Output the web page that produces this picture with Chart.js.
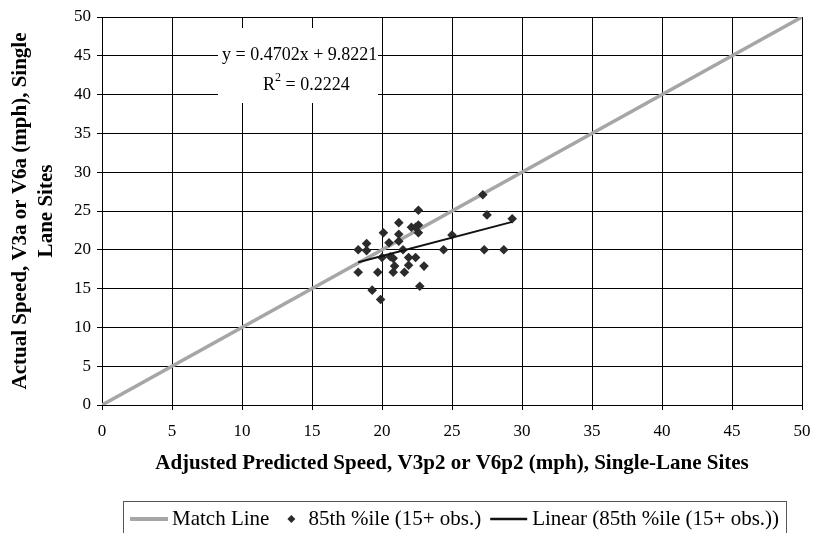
<!DOCTYPE html>
<html>
<head>
<meta charset="utf-8">
<script src="https://cdn.jsdelivr.net/npm/chart.js@4"></script>
<style>
  html, body { margin: 0; padding: 0; background: #fff; }
  #wrap { width: 814px; height: 533px; }
</style>
</head>
<body>
<div id="wrap"><canvas id="chart" width="814" height="533"></canvas></div>
<script>
// observed 85th percentile speeds (x = adjusted predicted, y = actual)
const predictedSpeed = [27.2, 22.6, 27.5, 29.3, 21.2, 22.1, 22.6, 22.4, 20.1, 21.2, 22.6, 25.0,
  18.9, 20.5, 21.2, 18.3, 18.9, 21.5, 24.4, 27.3, 28.7, 20.0, 20.6, 20.8, 21.9, 22.4,
  20.9, 21.9, 23.0, 18.3, 19.7, 20.8, 21.6, 22.7, 19.3, 19.9];
const actualSpeed = [27.1, 25.1, 24.5, 24.0, 23.5, 22.9, 23.2, 22.9, 22.2, 22.0, 22.2, 21.9,
  20.8, 20.9, 21.1, 20.0, 19.9, 20.0, 20.0, 20.0, 20.0, 19.0, 19.1, 18.9, 19.0, 19.0,
  17.9, 18.0, 17.9, 17.1, 17.1, 17.1, 17.1, 15.3, 14.8, 13.6];
// match line and fitted trend line end points
const matchX = [0, 50];
const matchY = [0, 50];
const trendX = [18.3, 29.3];
const trendY = [18.4, 23.6];
const xTicks = [0, 5, 10, 15, 20, 25, 30, 35, 40, 45, 50];
const yTicks = [0, 5, 10, 15, 20, 25, 30, 35, 40, 45, 50];
const seriesNames = ['Match Line', '85th %ile (15+ obs.)', 'Linear (85th %ile (15+ obs.))'];
const equationText = 'y = 0.4702x + 9.8221';
const rSquaredText = ' = 0.2224';

const serif = "'Liberation Serif', 'Times New Roman', serif";

function toPoints(xs, ys) {
    return xs.map((x, i) => ({ x: x, y: ys[i] }));
}

// white label box with regression equation
const equationBox = {
    id: 'equationBox',
    beforeDatasetsDraw(chart) {
        const ctx = chart.ctx;
        ctx.save();
        ctx.fillStyle = '#fff';
        ctx.fillRect(218, 28, 160, 75);
        ctx.restore();
    },
    afterDraw(chart) {
        const ctx = chart.ctx;
        ctx.save();
        ctx.fillStyle = '#000';
        ctx.font = '18px ' + serif;
        ctx.textBaseline = 'middle';
        ctx.textAlign = 'left';
        ctx.fillText(equationText, 222, 55);
        let x = 263;
        ctx.fillText('R', x, 85);
        x += ctx.measureText('R').width;
        ctx.font = '12px ' + serif;
        ctx.fillText('2', x, 78);
        x += ctx.measureText('2').width;
        ctx.font = '18px ' + serif;
        ctx.fillText(rSquaredText, x, 85);
        ctx.restore();
    }
};

// boxed legend under the x axis title
const boxLegend = {
    id: 'boxLegend',
    afterDraw(chart) {
        const ctx = chart.ctx;
        const ds = chart.data.datasets;
        const y = 519;
        ctx.save();
        ctx.font = '21px ' + serif;
        ctx.textBaseline = 'middle';
        let x = 130;
        // match line
        ctx.strokeStyle = ds[0].borderColor;
        ctx.lineWidth = 4;
        ctx.beginPath(); ctx.moveTo(x, y); ctx.lineTo(x + 38, y); ctx.stroke();
        x += 42;
        ctx.fillStyle = '#000';
        ctx.fillText(ds[0].label, x, y);
        x += ctx.measureText(ds[0].label).width + 22;
        // diamond
        ctx.fillStyle = ds[1].backgroundColor;
        ctx.beginPath();
        ctx.moveTo(x, y - 4); ctx.lineTo(x + 4, y); ctx.lineTo(x, y + 4); ctx.lineTo(x - 4, y);
        ctx.closePath(); ctx.fill();
        x += 17;
        ctx.fillStyle = '#000';
        ctx.fillText(ds[1].label, x, y);
        x += ctx.measureText(ds[1].label).width + 9;
        // trend line
        ctx.strokeStyle = ds[2].borderColor;
        ctx.lineWidth = 2.5;
        ctx.beginPath(); ctx.moveTo(x, y); ctx.lineTo(x + 37, y); ctx.stroke();
        x += 42;
        ctx.fillText(ds[2].label, x, y);
        x += ctx.measureText(ds[2].label).width + 7;
        ctx.strokeStyle = '#555';
        ctx.lineWidth = 1;
        ctx.strokeRect(123.5, 501.5, Math.round(x) - 123, 60);
        ctx.restore();
    }
};

new Chart(document.getElementById('chart'), {
    type: 'scatter',
    data: {
        datasets: [{
            label: seriesNames[0],
            type: 'line',
            data: toPoints(matchX, matchY),
            borderColor: '#a6a6a6',
            borderWidth: 3.5,
            pointRadius: 0,
            order: 3
        }, {
            label: seriesNames[1],
            data: toPoints(predictedSpeed, actualSpeed),
            pointStyle: 'rectRot',
            pointRadius: 4.8,
            backgroundColor: '#2b2b2b',
            borderColor: '#2b2b2b',
            borderWidth: 0,
            order: 2
        }, {
            label: seriesNames[2],
            type: 'line',
            data: toPoints(trendX, trendY),
            borderColor: '#111',
            borderWidth: 2,
            pointRadius: 0,
            order: 1
        }]
    },
    options: {
        responsive: false,
        animation: false,
        layout: { padding: { left: 0, right: 12, top: 17, bottom: 57 } },
        plugins: {
            legend: { display: false },
            tooltip: { enabled: false }
        },
        scales: {
            x: {
                type: 'linear',
                min: 0,
                max: 50,
                afterBuildTicks: s => { s.ticks = xTicks.map(v => ({ value: v })); },
                afterFit: s => { s.height = 71; s.paddingLeft = 0; s.paddingRight = 0; },
                grid: { color: '#000', lineWidth: 1, tickLength: 5 },
                border: { color: '#000', width: 1 },
                ticks: { color: '#000', font: { family: serif, size: 17 }, padding: 11, maxRotation: 0 },
                title: {
                    display: true,
                    text: 'Adjusted Predicted Speed, V3p2 or V6p2 (mph), Single-Lane Sites',
                    color: '#000',
                    font: { family: serif, size: 21, weight: 'bold' },
                    padding: 0
                }
            },
            y: {
                type: 'linear',
                min: 0,
                max: 50,
                afterBuildTicks: s => { s.ticks = yTicks.map(v => ({ value: v })); },
                afterFit: s => { s.width = 102; },
                grid: { color: '#000', lineWidth: 1, tickLength: 5 },
                border: { color: '#000', width: 1 },
                ticks: { color: '#000', font: { family: serif, size: 17 }, padding: 6 },
                title: {
                    display: true,
                    text: ['Actual Speed, V3a or V6a (mph), Single', 'Lane Sites'],
                    color: '#000',
                    font: { family: serif, size: 21, weight: 'bold', lineHeight: 1.24 },
                    padding: { top: 8, bottom: 0 }
                }
            }
        }
    },
    plugins: [equationBox, boxLegend]
});
</script>
</body>
</html>
